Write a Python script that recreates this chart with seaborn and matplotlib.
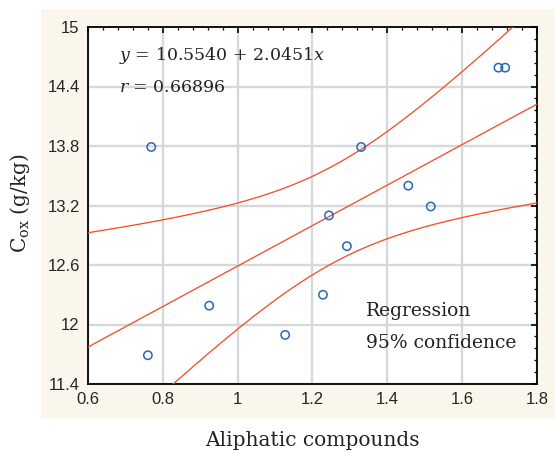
import numpy as np
import pandas as pd
import matplotlib
matplotlib.use("Agg")
import matplotlib.pyplot as plt
from matplotlib.patches import Rectangle
from matplotlib.ticker import MultipleLocator
import seaborn as sns

# ---- data ----
aliphatic = [0.760, 0.769, 0.924, 1.127, 1.228, 1.244, 1.292, 1.330, 1.456, 1.516, 1.697, 1.715]
cox = [11.69, 13.79, 12.19, 11.895, 12.30, 13.10, 12.79, 13.79, 13.40, 13.19, 14.59, 14.59]
eq_text = r"$y$ = 10.5540 + 2.0451$x$"
r_text = r"$r$ = 0.66896"
x_ticks = [0.6, 0.8, 1.0, 1.2, 1.4, 1.6, 1.8]
x_ticklabels = ["0.6", "0.8", "1", "1.2", "1.4", "1.6", "1.8"]
y_ticks = [11.4, 12.0, 12.6, 13.2, 13.8, 14.4, 15.0]
y_ticklabels = ["11.4", "12", "12.6", "13.2", "13.8", "14.4", "15"]

sns.set_style("white")
plt.rcParams["font.family"] = ["Liberation Sans", "DejaVu Sans"]
plt.rcParams["mathtext.fontset"] = "dejavuserif"

df = pd.DataFrame({"x": aliphatic, "y": cox})

# linear fit and 95% confidence band of the mean
xa = np.asarray(aliphatic)
ya = np.asarray(cox)
n = len(xa)
b, a = np.polyfit(xa, ya, 1)
resid = ya - (a + b * xa)
s = np.sqrt(np.sum(resid ** 2) / (n - 2))
sxx = np.sum((xa - xa.mean()) ** 2)
t = 2.228  # t(0.975, df=10)
xs = np.linspace(0.6, 1.8, 200)
yfit = a + b * xs
half = t * s * np.sqrt(1.0 / n + (xs - xa.mean()) ** 2 / sxx)
band = pd.DataFrame({"x": xs, "fit": yfit, "lo": yfit - half, "hi": yfit + half})

fig = plt.figure(figsize=(5.55, 4.5), dpi=100)
fig.patch.set_facecolor("white")
bg = Rectangle((41 / 555, 31 / 450), (555 - 41) / 555, (419 - 9) / 450,
               transform=fig.transFigure, facecolor="#faf6ec",
               edgecolor="none", zorder=-10)
fig.patches.append(bg)
ax = fig.add_axes([88 / 555, 66 / 450, (537 - 88) / 555, (384 - 27) / 450])
ax.set_zorder(1)
ax.set_facecolor("white")

red = "#f0502d"
for col in ["fit", "lo", "hi"]:
    sns.lineplot(data=band, x="x", y=col, ax=ax, color=red, linewidth=0.95, zorder=3)

sns.scatterplot(data=df, x="x", y="y", ax=ax, marker="o", s=36,
                facecolors="none", edgecolor="#2a66b4", linewidth=1.1, zorder=4)

ax.set_xlim(0.6, 1.8)
ax.set_ylim(11.4, 15.0)
ax.set_xticks(x_ticks)
ax.set_xticklabels(x_ticklabels)
ax.set_yticks(y_ticks)
ax.set_yticklabels(y_ticklabels)
ax.xaxis.set_minor_locator(MultipleLocator(0.04))
ax.yaxis.set_minor_locator(MultipleLocator(0.12))
ax.grid(True, which="major", color="#d6d9d9", linewidth=1.7, zorder=0)
ax.set_axisbelow(True)
ax.tick_params(which="both", direction="in", top=True, right=True, color="black")
ax.tick_params(which="major", length=4, width=1.2, labelsize=12, pad=6)
ax.tick_params(which="minor", length=2.5, width=0.9)
for sp in ax.spines.values():
    sp.set_color("black")
    sp.set_linewidth(1.3)

ax.set_xlabel("")
ax.set_ylabel("")
serif = ["DejaVu Serif"]
tc = "#222222"
fig.text(312 / 555, 1 - 440 / 450, "Aliphatic compounds", ha="center", va="center",
         fontsize=14.5, family=serif, color=tc)
fig.text(20 / 555, 1 - 203 / 450, r"C$_{\mathrm{ox}}$ (g/kg)", ha="center", va="center",
         rotation=90, fontsize=14.5, family=serif, color=tc)

fig.text(119 / 555, 1 - 55 / 450, eq_text, fontsize=12.5, family=serif, color=tc, va="center")
fig.text(119 / 555, 1 - 87 / 450, r_text, fontsize=12.5, family=serif, color=tc, va="center")
fig.text(366 / 555, 1 - 311 / 450, "Regression", fontsize=13.5, family=serif, color=tc, va="center")
fig.text(366 / 555, 1 - 343 / 450, "95% confidence", fontsize=13.5, family=serif, color=tc, va="center")

fig.savefig("out.png", dpi=100)
